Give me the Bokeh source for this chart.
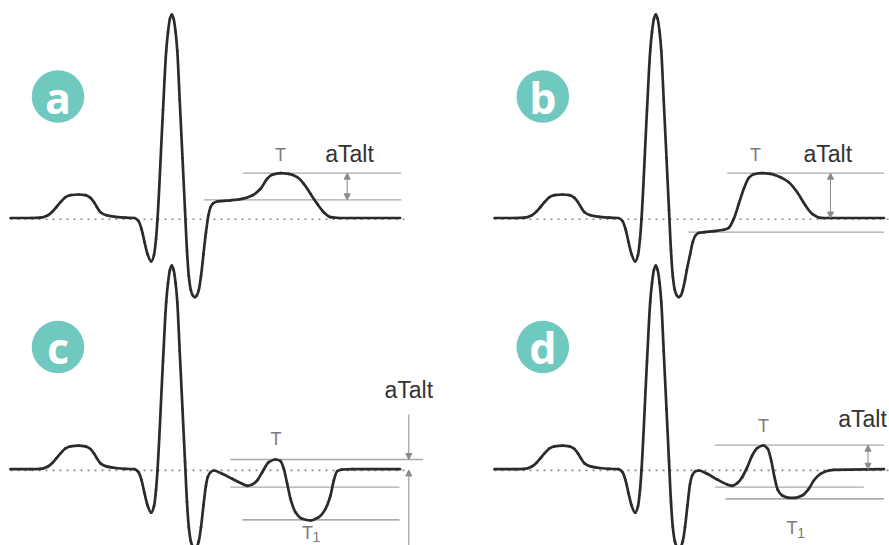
import numpy as np
from bokeh.plotting import figure
from bokeh.models import Range1d, Arrow, NormalHead
from bokeh.core.properties import value
from bokeh.embed import file_html
from bokeh.resources import INLINE

# ---------------------------------------------------------------------------
# Waveform data: time position along the trace and amplitude above the
# isoelectric line (both in drawing units).
# ---------------------------------------------------------------------------

# P wave and QRS complex, identical for every trace
beat_t = [10, 30, 40, 47, 52, 56, 60, 65, 70, 78, 85, 90, 93.5, 96.5, 100, 106, 115, 125, 134,
          138, 141, 144, 147, 150.7, 153.5, 155.5, 157,
          162.5, 165.7, 167.5, 169.4, 171.3, 173.2, 175.1, 176.8, 179.2, 182, 184.5, 186.5,
          188.3, 190.3, 192.3, 194.3, 196.3, 198.3]
beat_v = [0, 0, 0.3, 2.5, 6.5, 11, 15.8, 20.8, 22.8, 23.5, 22.8, 20.2, 15.8, 10.8, 5.8, 2.8, 1.2, 0.3, 0,
          -3, -11, -24, -36, -43.5, -37, -21, -1,
          108, 167, 186, 199, 203.5, 199, 186, 167, 118, 60, 8, -33,
          -58, -72, -77.5, -79.2, -77.5, -72]

# (a) ST elevation with a raised T wave
st_a_t = [200.5, 203, 205.5, 208, 210, 212.5, 216, 222, 230, 241.7, 251.7, 260, 266.7, 271.7, 280,
          288.3, 296.7, 303.3, 310, 316.7, 323.3, 330, 338.3, 350, 399.5]
st_a_v = [-58, -36, -14, 3, 10.8, 14.5, 16.3, 17, 17.7, 19.2, 22.5, 29.2, 39.2, 43.2, 44.8,
          44.2, 40.8, 34.2, 24.2, 14.2, 5.8, 0.8, 0, 0, 0]

# (b) ST depression with a tall T wave
st_b_t = [200.5, 202.3, 205.7, 208.3, 211, 214, 220, 229.3, 239.3, 244.3, 249.3, 254.3, 259.3,
          264.3, 269.3, 277.7, 286, 296, 304.3, 312.7, 321, 327.7, 336, 344.3, 399.5]
st_b_v = [-62, -52, -36, -24, -17.5, -15, -14.2, -13.2, -11.8, -9.8, -0.8, 14.2, 29.2,
          40.2, 43.8, 44.8, 44.2, 40.8, 35.8, 25.8, 12.5, 4.2, 0.2, 0, 0]

# (c) small positive T followed by a deep negative T1
st_c_t = [200.5, 203, 205.5, 207.2, 210, 213.3, 221.7, 231.7, 241.7, 246.7, 251.7, 256.7, 261.7,
          268.3, 275, 280, 283.3, 286.7, 290, 295, 301.7, 310, 318.3, 325, 330, 333.3, 336.7,
          341.7, 351.7, 399.5]
st_c_v = [-58, -36, -16, -8, -3, -1.3, -4.6, -9.6, -14.6, -16.6, -15.3, -11.3, -3,
          7, 9.7, 8, 0.4, -14.6, -29.6, -43, -49.6, -51.3, -48, -39.6, -26.3, -11.3, -2,
          -0.3, 0, 0]

# (d) positive T followed by a shallow negative T1
st_d_t = [200.5, 203, 205.5, 207.7, 211, 214.3, 222.7, 232.7, 242.7, 247.7, 252.7, 257.7, 262.7,
          267.7, 272.7, 278.7, 283.3, 286.7, 290, 293.3, 297.7, 304.3, 311, 317.7, 324.3, 329.3,
          336, 344.3, 349.3, 399.5]
st_d_v = [-58, -36, -15, -6.3, -2, -1.3, -4.6, -10.3, -15.3, -16.6, -14, -8, 2,
          13.7, 21, 23.7, 20.4, 8.7, -8, -20.6, -26.3, -28.6, -28.6, -26.3, -19.6, -11.3,
          -4.6, -1.3, -0.6, 0]

# Reference levels marked by the grey guide lines (amplitude above the isoelectric line)
levels_a = [44.8, 18.2]
levels_b = [44.8, -14.2]
levels_c = [9.7, -18.0, -50.6]
levels_d = [24.0, -18.0, -29.6]

panel_letters = ["a", "b", "c", "d"]

# ---------------------------------------------------------------------------
# Layout of the four traces on the canvas
# ---------------------------------------------------------------------------
W, H = 889, 545
TOP_BASE, BOTTOM_BASE = 217.5, 468.7
RIGHT_SHIFT = 484

INK = "#2b2b2b"
GUIDE = "#a9a9a9"
GUIDE_DARK = "#8e8e8e"
ARROW = "#8a8a8a"
TEAL = "#6fc9bf"
FONT = value("Liberation Sans")
# the svg text baseline lands below the anchor; lift anchors by this fraction of the font size
BASELINE_LIFT = 0.34


def pchip_slopes(t, v):
    """Shape-preserving (Fritsch-Carlson) tangents for a piecewise cubic through the knots."""
    t = np.asarray(t, float)
    v = np.asarray(v, float)
    h = np.diff(t)
    d = np.diff(v) / h
    m = np.zeros_like(v)
    m[0], m[-1] = d[0], d[-1]
    for k in range(1, len(v) - 1):
        if d[k - 1] * d[k] <= 0:
            m[k] = 0.0
        else:
            w1 = 2 * h[k] + h[k - 1]
            w2 = h[k] + 2 * h[k - 1]
            m[k] = (w1 + w2) / (w1 / d[k - 1] + w2 / d[k])
    return t, v, h, m


def draw_trace(p, t, v, dx, base):
    t, v, h, m = pchip_slopes(t, v)
    x0, x1 = t[:-1], t[1:]
    y0, y1 = v[:-1], v[1:]
    cx0 = x0 + h / 3
    cy0 = y0 + m[:-1] * h / 3
    cx1 = x1 - h / 3
    cy1 = y1 - m[1:] * h / 3
    p.bezier(x0=dx + x0, y0=base - y0, x1=dx + x1, y1=base - y1,
             cx0=dx + cx0, cy0=base - cy0, cx1=dx + cx1, cy1=base - cy1,
             line_color=INK, line_width=2.7, line_cap="round", line_join="round")


def arrow(p, x, ya, yb, both=True):
    head = dict(size=6, fill_color=ARROW, line_color=ARROW, line_width=1)
    p.add_layout(Arrow(x_start=x, y_start=ya, x_end=x, y_end=yb,
                       start=NormalHead(**head) if both else None,
                       end=NormalHead(**head),
                       line_color=ARROW, line_width=1))


def label(p, xs, baselines, texts, size, color, font=FONT, style="normal"):
    p.text(x=xs, y=[b - BASELINE_LIFT * size for b in baselines], text=texts,
           text_font=font, text_font_style=style, text_font_size=f"{size}px",
           text_color=color, text_align="center", text_baseline="alphabetic")


p = figure(width=W, height=H, x_range=Range1d(0, W), y_range=Range1d(H, 0),
           output_backend="svg", toolbar_location=None,
           x_axis_location=None, y_axis_location=None,
           min_border=0, min_border_left=0, min_border_right=0,
           min_border_top=0, min_border_bottom=0)
p.grid.visible = False
p.outline_line_color = None
p.background_fill_color = "white"
p.border_fill_color = "white"

# isoelectric (dotted) lines
for dx, base, x_end in [(0, TOP_BASE, 409), (RIGHT_SHIFT, TOP_BASE, 895),
                        (0, BOTTOM_BASE, 409), (RIGHT_SHIFT, BOTTOM_BASE, 895)]:
    p.segment(x0=[dx + 10], y0=[base + 1.2], x1=[x_end], y1=[base + 1.2],
              line_color="#8c8c8c", line_width=1.6, line_dash="2 5")

# grey guide lines at the marked levels
def guides(p, base, levels, spans, colors):
    p.segment(x0=[s[0] for s in spans], x1=[s[1] for s in spans],
              y0=[base - lv for lv in levels], y1=[base - lv for lv in levels],
              line_color=colors, line_width=1.3)

guides(p, TOP_BASE, levels_a, [(242.7, 400.7), (203.3, 400.7)], [GUIDE, GUIDE])
guides(p, TOP_BASE, levels_b, [(726.7, 883.5), (688.0, 883.5)], [GUIDE, GUIDE])
guides(p, BOTTOM_BASE, levels_c, [(230.0, 422.7), (230.0, 399.0), (241.7, 399.0)],
       [GUIDE, GUIDE, GUIDE_DARK])
guides(p, BOTTOM_BASE, levels_d, [(714.3, 883.3), (714.3, 863.3), (725.0, 883.3)],
       [GUIDE, GUIDE, GUIDE_DARK])

# ECG traces
traces = [(st_a_t, st_a_v, 0, TOP_BASE), (st_b_t, st_b_v, RIGHT_SHIFT, TOP_BASE),
          (st_c_t, st_c_v, 0, BOTTOM_BASE), (st_d_t, st_d_v, RIGHT_SHIFT, BOTTOM_BASE)]
for tail_t, tail_v, dx, base in traces:
    draw_trace(p, beat_t + tail_t, beat_v + tail_v, dx, base)

# dimension arrows for aTalt
arrow(p, 346.7, TOP_BASE - levels_a[0], TOP_BASE - levels_a[1])
arrow(p, 830.0, TOP_BASE - levels_b[0], TOP_BASE)
arrow(p, 408.3, 414.0, BOTTOM_BASE - levels_c[0], both=False)
arrow(p, 408.3, 549.0, BOTTOM_BASE + 0.8, both=False)
arrow(p, 867.5, BOTTOM_BASE - levels_d[0], BOTTOM_BASE)

# panel badges
badge_x = [57.5, 542.3, 57.5, 542.3]
badge_y = [96.0, 96.0, 346.5, 346.5]
p.circle(x=badge_x, y=badge_y, radius=26.3, fill_color=TEAL, line_color=None)
label(p, badge_x, [by + 15.5 for by in badge_y], panel_letters, 43, "white",
      font=value("Open Sans"), style="bold")

# labels
label(p, [349.0, 827.3, 408.3, 862.0], [161.0, 161.0, 397.0, 426.0], ["aTalt"] * 4,
      23, "#333333")
label(p, [280.0, 755.0, 275.5, 763.0], [161.0, 161.0, 445.0, 432.0], ["T"] * 4,
      18, "#7a7a7a")
label(p, [307.0, 791.5], [539.0, 533.5], ["T", "T"], 18, "#7a7a7a")
label(p, [316.0, 800.7], [541.0, 537.0], ["1", "1"], 14, "#7a7a7a")

open("out.html", "w").write(file_html(p, INLINE))
